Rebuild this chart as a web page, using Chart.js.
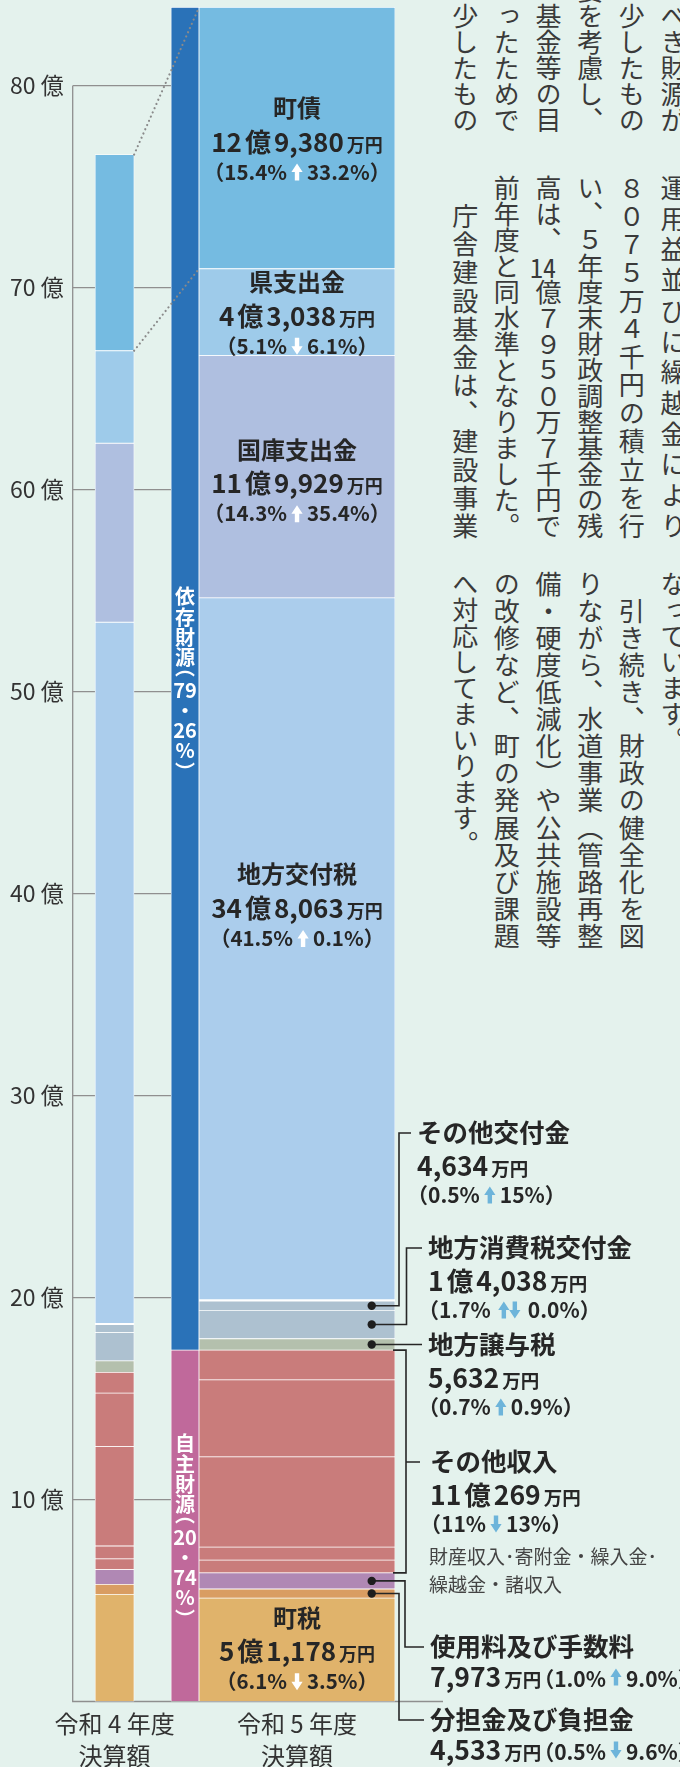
<!DOCTYPE html>
<html lang="ja">
<head>
<meta charset="utf-8">
<title>歳入決算額の比較</title>
<script src="https://cdn.jsdelivr.net/npm/chart.js@4.4.1/dist/chart.umd.min.js"></script>
<style>
  html, body { margin: 0; padding: 0; }
  body {
    width: 680px; height: 1767px; overflow: hidden; position: relative;
    background: #e4f2ed; color: #3a3a3a;
    font-family: "Noto Sans CJK JP", "Noto Sans", sans-serif;
  }
  #revenueChart { position: absolute; left: 0; top: 0; }
  /* vertical body text of the page */
  .tate {
    position: absolute; writing-mode: vertical-rl; font-size: 26px; line-height: 41.67px;
    white-space: nowrap; color: #3a3a3a;
  }
  .tate.end { text-align: end; }
  .tate .j { text-align-last: justify; }
  .tcy { text-combine-upright: all; }
</style>
</head>
<body>

<div class="tate end" style="right:-14px; top:-67px; height:200px;">
  <div>べき財源が</div><div>少したもの</div><div>要を考慮し、</div><div>基金等の目</div><div>ったためで</div><div>少したもの</div>
</div>
<div class="tate" style="right:-14px; top:175px; height:364px;">
  <div class="j">運用益並びに繰越金により</div>
  <div class="j">８０７５万４千円の積立を行</div>
  <div class="j">い、５年度末財政調整基金の残</div>
  <div class="j">高は、<span class="tcy">14</span>億７９５０万７千円で</div>
  <div class="j">前年度と同水準となりました。</div>
  <div class="j">　庁舎建設基金は、建設事業</div>
</div>
<div class="tate" style="right:-14px; top:571px; height:378px;">
  <div>なっています。</div>
  <div class="j">　引き続き、財政の健全化を図</div>
  <div class="j">りながら、水道事業（管路再整</div>
  <div class="j">備・硬度低減化）や公共施設等</div>
  <div class="j">の改修など、町の発展及び課題</div>
  <div>へ対応してまいります。</div>
</div>

<canvas id="revenueChart" width="680" height="1767"></canvas>

<script>
document.addEventListener("DOMContentLoaded", () => {

const FONT = '"Noto Sans CJK JP", "Noto Sans", sans-serif';

// stacked segments, bottom to top
const segmentNames = ['町税', '分担金及び負担金', '使用料及び手数料', '財産収入', '寄附金', '繰入金', '繰越金', '諸収入',
  '地方譲与税', '地方消費税交付金', 'その他交付金', '地方交付税', '国庫支出金', '県支出金', '町債'];
const segmentItems = ['町税', '分担金及び負担金', '使用料及び手数料', 'その他収入', 'その他収入', 'その他収入', 'その他収入', 'その他収入',
  '地方譲与税', '地方消費税交付金', 'その他交付金', '地方交付税', '国庫支出金', '県支出金', '町債'];
// 令和5年度 (万円)
const r5Values = [51178, 4533, 7973, 6300, 6400, 44700, 38100, 14769, 5632, 14038, 4634, 348063, 119929, 43038, 129380];
// 令和4年度 (億円)
const r4Values = [5.30, 0.50, 0.73, 0.53, 0.64, 4.92, 2.65, 1.02, 0.57, 1.40, 0.40, 34.77, 8.86, 4.58, 9.71];

// items shown with labels
const itemNames = ['町税', '分担金及び負担金', '使用料及び手数料', 'その他収入', '地方譲与税', '地方消費税交付金', 'その他交付金', '地方交付税', '国庫支出金', '県支出金', '町債'];
const itemShares = ['6.1%', '0.5%', '1.0%', '11%', '0.7%', '1.7%', '0.5%', '41.5%', '14.3%', '5.1%', '15.4%'];
const itemChanges = ['3.5%', '9.6%', '9.0%', '13%', '0.9%', '0.0%', '15%', '0.1%', '35.4%', '6.1%', '33.2%'];
const itemTrends = ['down', 'down', 'up', 'down', 'up', 'updown', 'up', 'up', 'up', 'down', 'up'];
const itemGroup = [0, 0, 0, 0, 1, 1, 1, 1, 1, 1, 1];
const otherIncomeNote = ['財産収入･寄附金・繰入金･', '繰越金・諸収入'];

const groupNames = ['自主財源', '依存財源'];
const groupShares = ['20・74%', '79・26%'];

const yTicks = [10, 20, 30, 40, 50, 60, 70, 80];
const xLabels = [['令和 4 年度', '決算額'], ['令和 5 年度', '決算額']];

// styles / layout
const segmentColors = ['#e0b36b', '#d99d62', '#b088b4', '#c97c7b', '#c97c7b', '#c97c7b', '#c97c7b', '#c97c7b',
  '#b4c0ad', '#adc1d0', '#adc1d0', '#abcdec', '#afbfe0', '#9ecbea', '#75bbe1'];
const groupColors = ['#c0699b', '#2a72b8'];
const columns = { r4: 13, group: 34.85, r5: 69.6 };   // x-scale units (0-100)
const thickness = { r4: 39, group: 28, r5: 196 };
const baselineEnd = 443;

// in-bar labels: shift of the amount line from the segment middle
const inBarShift = { '町債': 4, '県支出金': 4, '国庫支出金': 7, '地方交付税': -41, '町税': 2 };
// labels to the right of the bar with leader lines
const sideLayout = {
  'その他交付金':     { titleY: 1133, lineX: 399, textX: 417 },
  '地方消費税交付金': { titleY: 1248, lineX: 406.5, textX: 428 },
  '地方譲与税':       { titleY: 1345, lineX: null, textX: 428 },
  'その他収入':       { titleY: 1462, lineX: 406, textX: 430, bracket: true },
  '使用料及び手数料': { titleY: 1647, lineX: 405, textX: 430, inline: true },
  '分担金及び負担金': { titleY: 1720, lineX: 399, textX: 430, inline: true }
};

const itemAmounts = itemNames.map(item =>
  segmentItems.reduce((s, it, i) => it === item ? s + r5Values[i] : s, 0));
const groupTotals = groupNames.map((g, gi) =>
  segmentItems.reduce((s, it, i) => itemGroup[itemNames.indexOf(it)] === gi ? s + r5Values[i] : s, 0));

// build datasets
const common = { borderColor: '#ffffff', borderWidth: 0.75, borderSkipped: false, grouped: false };
const widthFor = name => name === '地方交付税' ? { top: 0.75, left: 0.75, right: 0.75, bottom: 2 } : 0.75;
const datasets = [];
segmentNames.forEach((name, i) => {
  datasets.push({ ...common, label: `令和4年度 ${name}`, data: [{ x: columns.r4, y: r4Values[i] }],
    backgroundColor: segmentColors[i], barThickness: thickness.r4, borderWidth: widthFor(name) });
});
segmentNames.forEach((name, i) => {
  datasets.push({ ...common, label: `令和5年度 ${name}`, data: [{ x: columns.r5, y: r5Values[i] / 10000 }],
    backgroundColor: segmentColors[i], barThickness: thickness.r5, borderWidth: widthFor(name) });
});
groupNames.forEach((g, gi) => {
  datasets.push({ ...common, label: g, data: [{ x: columns.group, y: groupTotals[gi] / 10000 }],
    backgroundColor: groupColors[gi], barThickness: thickness.group });
});

// text helpers
const fontOf = p => `${p.bold ? 'bold ' : ''}${p.size}px ${FONT}`;

function drawArrow(ctx, cx, cy, h, up, color) {
  const w = h * 0.66, head = h * 0.5, shaft = h * 0.26;
  const s = up ? 1 : -1;
  const top = cy - s * h / 2, bot = cy + s * h / 2;
  ctx.fillStyle = color;
  ctx.beginPath();
  ctx.moveTo(cx, top);
  ctx.lineTo(cx + w / 2, top + s * head);
  ctx.lineTo(cx + shaft / 2, top + s * head);
  ctx.lineTo(cx + shaft / 2, bot);
  ctx.lineTo(cx - shaft / 2, bot);
  ctx.lineTo(cx - shaft / 2, top + s * head);
  ctx.lineTo(cx - w / 2, top + s * head);
  ctx.closePath();
  ctx.fill();
}

function drawRich(ctx, parts, x, y, align, color) {
  const widths = parts.map(p => {
    if (p.gap !== undefined) return p.gap;
    if (p.arrow) return p.arrow === 'updown' ? 37 : 20;
    ctx.font = fontOf(p);
    return ctx.measureText(p.t).width;
  });
  const total = widths.reduce((a, b) => a + b, 0);
  const maxSize = Math.max(...parts.filter(p => p.size).map(p => p.size));
  const baseY = y + maxSize * 0.37;
  let cx = align === 'center' ? x - total / 2 : x;
  ctx.save();
  ctx.textAlign = 'left';
  ctx.textBaseline = 'alphabetic';
  parts.forEach((p, i) => {
    if (p.arrow === 'updown') {
      drawArrow(ctx, cx + 13, y, 17, true, p.color);
      drawArrow(ctx, cx + 24, y, 17, false, p.color);
    } else if (p.arrow) {
      drawArrow(ctx, cx + widths[i] / 2, y, 17, p.arrow === 'up', p.color);
    } else if (p.t) {
      ctx.font = fontOf(p);
      ctx.fillStyle = p.color || color;
      ctx.fillText(p.t, cx, baseY);
    }
    cx += widths[i];
  });
  ctx.restore();
}

function amountParts(man, big, small) {
  const oku = Math.floor(man / 10000), rest = man % 10000;
  const parts = [];
  if (oku) parts.push({ t: String(oku), size: big, bold: true }, { gap: 3 }, { t: '億', size: big, bold: true }, { gap: 3 });
  parts.push({ t: rest.toLocaleString('en-US'), size: big, bold: true }, { gap: 3 }, { t: '万円', size: small, bold: true });
  return parts;
}

function pctParts(k, size, arrowColor) {
  return [
    { t: '（', size, bold: true }, { t: itemShares[k], size, bold: true },
    { arrow: itemTrends[k], color: arrowColor },
    { t: itemChanges[k], size, bold: true }, { t: '）', size, bold: true }
  ];
}

// vertical white text in the group bar; every token's ink is centred in its slot
function drawGroupLabel(ctx, cx, cy, name, share) {
  const tokens = [];
  for (const ch of name) tokens.push({ t: ch, adv: 20.5 });
  tokens.push({ t: '︵', adv: 12 });
  share.match(/\d+|./g).forEach(m => tokens.push({ t: m, adv: /\d/.test(m) ? 21 : 19 }));
  tokens.push({ t: '︶', adv: 12 });
  const total = tokens.reduce((s, k) => s + k.adv, 0);
  let yy = cy - total / 2;
  ctx.save();
  ctx.font = `bold 20px ${FONT}`;
  ctx.fillStyle = '#ffffff';
  ctx.textAlign = 'center';
  ctx.textBaseline = 'middle';
  tokens.forEach(k => {
    const m = ctx.measureText(k.t);
    const inkMid = (m.actualBoundingBoxDescent - m.actualBoundingBoxAscent) / 2;
    ctx.fillText(k.t, cx, yy + k.adv / 2 - inkMid);
    yy += k.adv;
  });
  ctx.restore();
}

// annotation plugin: axis line, connectors, labels and leaders
const annotations = {
  id: 'annotations',
  beforeDatasetsDraw(chart) {
    const { ctx, chartArea, scales: { y } } = chart;
    const y0 = y.getPixelForValue(0);
    ctx.save();
    ctx.strokeStyle = '#8f8f8f';
    ctx.lineWidth = 1.3;
    ctx.beginPath();
    ctx.moveTo(chartArea.left, y.getPixelForValue(yTicks[yTicks.length - 1]));
    ctx.lineTo(chartArea.left, y0);
    ctx.lineTo(baselineEnd, y0);
    ctx.stroke();
    ctx.restore();
  },
  afterDatasetsDraw(chart) {
    const { ctx } = chart;
    const nSeg = segmentNames.length;
    const barOf = (offset, i) => chart.getDatasetMeta(offset + i).data[0];
    const r5Span = item => {
      const els = segmentItems.map((it, i) => it === item ? barOf(nSeg, i) : null).filter(Boolean);
      return { top: Math.min(...els.map(e => e.y)), bottom: Math.max(...els.map(e => e.base)), el: els[0] };
    };

    // dotted connectors between the two 町債 segments
    const a = barOf(0, nSeg - 1), b = barOf(nSeg, nSeg - 1);
    ctx.save();
    ctx.strokeStyle = '#8a8a8a';
    ctx.lineWidth = 2.2;
    ctx.lineCap = 'round';
    ctx.setLineDash([0.01, 4.6]);
    ctx.beginPath();
    ctx.moveTo(a.x + a.width / 2, a.y); ctx.lineTo(b.x - b.width / 2, b.y);
    ctx.moveTo(a.x + a.width / 2, a.base); ctx.lineTo(b.x - b.width / 2, b.base);
    ctx.stroke();
    ctx.restore();

    // group bar vertical labels
    groupNames.forEach((g, gi) => {
      const el = barOf(2 * nSeg, gi);
      drawGroupLabel(ctx, el.x, (el.y + el.base) / 2, g, groupShares[gi]);
    });

    // labels inside the 令和5年度 bar
    Object.entries(inBarShift).forEach(([item, shift]) => {
      const k = itemNames.indexOf(item);
      const s = r5Span(item);
      const ay = (s.top + s.bottom) / 2 + shift;
      drawRich(ctx, [{ t: item, size: 24, bold: true }], s.el.x, ay - 34, 'center', '#262626');
      drawRich(ctx, amountParts(itemAmounts[k], 26, 18), s.el.x, ay, 'center', '#262626');
      drawRich(ctx, pctParts(k, 20.5, '#ffffff'), s.el.x, ay + 30, 'center', '#262626');
    });

    // labels on the right with leader lines
    Object.entries(sideLayout).forEach(([item, L]) => {
      const k = itemNames.indexOf(item);
      const s = r5Span(item);
      const right = s.el.x + s.el.width / 2;
      const dotX = right - 23.3, midY = (s.top + s.bottom) / 2;
      ctx.save();
      ctx.strokeStyle = '#262626';
      ctx.lineWidth = 1.6;
      ctx.beginPath();
      if (L.bracket) {
        ctx.moveTo(right - 2, s.top); ctx.lineTo(L.lineX, s.top);
        ctx.lineTo(L.lineX, s.bottom); ctx.lineTo(right - 2, s.bottom);
        ctx.moveTo(L.lineX, L.titleY); ctx.lineTo(L.textX - 10, L.titleY);
      } else if (L.lineX) {
        ctx.moveTo(dotX, midY); ctx.lineTo(L.lineX, midY);
        ctx.lineTo(L.lineX, L.titleY); ctx.lineTo(L.textX - 6, L.titleY);
      } else {
        ctx.moveTo(dotX, midY); ctx.lineTo(L.textX - 6, midY);
      }
      ctx.stroke();
      if (!L.bracket) {
        ctx.fillStyle = '#1e1e1e';
        ctx.beginPath();
        ctx.arc(dotX, midY, 4.2, 0, Math.PI * 2);
        ctx.fill();
      }
      ctx.restore();

      drawRich(ctx, [{ t: item, size: 25.5, bold: true }], L.textX, L.titleY, 'left', '#262626');
      const arrowBlue = '#6db4da';
      if (L.inline) {
        drawRich(ctx, [...amountParts(itemAmounts[k], 26.5, 18.5), { gap: -8 }, ...pctParts(k, 21, arrowBlue)],
          L.textX, L.titleY + 30, 'left', '#262626');
      } else {
        drawRich(ctx, amountParts(itemAmounts[k], 26.5, 18.5), L.textX, L.titleY + 33, 'left', '#262626');
        drawRich(ctx, pctParts(k, 21, arrowBlue), L.textX - 10, L.titleY + 62, 'left', '#262626');
      }
      if (item === 'その他収入') {
        otherIncomeNote.forEach((line, j) => {
          drawRich(ctx, [{ t: line, size: 19 }], L.textX - 1, L.titleY + 95 + j * 28, 'left', '#444444');
        });
      }
    });
  }
};

const ctx = document.getElementById("revenueChart").getContext("2d");
new Chart(ctx, {
  type: "bar",
  data: { datasets },
  options: {
    responsive: false,
    animation: false,
    layout: { padding: { top: 4.7, right: 285, bottom: 0, left: 0 } },
    plugins: {
      legend: { display: false },
      tooltip: { enabled: false }
    },
    scales: {
      x: {
        type: "linear",
        min: 0,
        max: 100,
        offset: false,
        stacked: true,
        grid: { display: false, drawTicks: false },
        border: { display: false },
        afterFit: scale => {
          scale.height = 65.5;
          scale.paddingLeft = 0;
          scale.paddingRight = 0;
        },
        afterBuildTicks: scale => { scale.ticks = [columns.r4, columns.r5].map(v => ({ value: v })); },
        ticks: {
          callback: (value, index) => xLabels[index],
          padding: 6,
          maxRotation: 0,
          autoSkip: false,
          color: "#333333",
          font: { family: FONT, size: 24, lineHeight: 1.33 }
        }
      },
      y: {
        min: 0,
        max: 84,
        stacked: true,
        grid: { color: "#8f8f8f", lineWidth: 1.2, drawTicks: false },
        border: { display: false },
        afterFit: scale => {
          scale.width = 72.7;
          scale.paddingTop = 0;
          scale.paddingBottom = 0;
        },
        afterBuildTicks: scale => { scale.ticks = yTicks.map(v => ({ value: v })); },
        ticks: {
          callback: value => `${value} 億`,
          padding: 9,
          color: "#333333",
          font: { family: FONT, size: 23 }
        }
      }
    }
  },
  plugins: [annotations]
});

});
</script>
</body>
</html>
